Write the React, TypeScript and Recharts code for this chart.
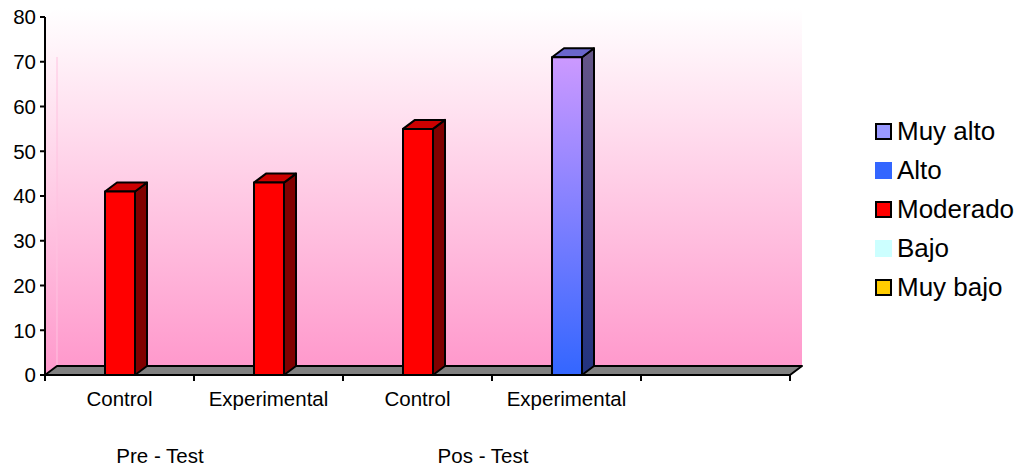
import { BarChart, Bar, XAxis, YAxis, Legend } from 'recharts'

const categories = ['Control', 'Experimental', 'Control', 'Experimental', '']
const muyBajo = [0, 0, 0, 0, 0]
const bajo = [0, 0, 0, 0, 0]
const moderado = [41, 43, 55, 0, 0]
const alto = [0, 0, 0, 0, 0]
const muyAlto = [0, 0, 0, 71, 0]
const yTicks = [0, 10, 20, 30, 40, 50, 60, 70, 80]
const groupLabels = ['Pre - Test', 'Pos - Test']
const seriesNames = ['Muy bajo', 'Bajo', 'Moderado', 'Alto', 'Muy alto']

const data = categories.map((name, i) => ({
  name,
  'Muy bajo': muyBajo[i],
  Bajo: bajo[i],
  Moderado: moderado[i],
  Alto: alto[i],
  'Muy alto': muyAlto[i],
}))

// chart geometry (front plane of the 3D box)
const W = 1022
const H = 468
const LEFT = 45
const RIGHT = 790
const TOP = 17
const BOTTOM = 375
const DX = 12
const DY = 9
const BAND = (RIGHT - LEFT) / categories.length
const FONT = '"Liberation Sans", Arial, sans-serif'

const looks: Record<string, { front: string; top: string; side: string; swatch: string; border: boolean }> = {
  'Muy bajo': { front: '#FFCC00', top: '#CCA300', side: '#806600', swatch: '#FFCC00', border: true },
  Bajo: { front: '#CCFFFF', top: '#A3CCCC', side: '#668080', swatch: '#CCFFFF', border: false },
  Moderado: { front: '#FF0000', top: '#CC0000', side: '#800000', swatch: '#FF0000', border: true },
  Alto: { front: '#3366FF', top: '#2952CC', side: '#1A3380', swatch: '#3366FF', border: false },
  'Muy alto': { front: 'url(#muyAltoFront)', top: '#6A66CC', side: 'url(#muyAltoSide)', swatch: '#9999FF', border: true },
}

const Bar3D = (props: any) => {
  const { x, y, width, height, look } = props
  if (!height || height <= 0) return <g />
  return (
    <g stroke="#000" strokeWidth={2} strokeLinejoin="round">
      <polygon
        points={`${x + width},${y} ${x + width + DX},${y - DY} ${x + width + DX},${y + height - DY} ${x + width},${y + height}`}
        fill={look.side}
      />
      <polygon
        points={`${x},${y} ${x + DX},${y - DY} ${x + width + DX},${y - DY} ${x + width},${y}`}
        fill={look.top}
      />
      <rect x={x} y={y} width={width} height={height} fill={look.front} />
    </g>
  )
}

const CategoryTick = (props: any) => {
  const { x, payload, index } = props
  const left = x - BAND / 2
  return (
    <g>
      <line x1={left} y1={BOTTOM} x2={left} y2={BOTTOM + 6} stroke="#000" strokeWidth={2} />
      {index === categories.length - 1 && (
        <line x1={left + BAND} y1={BOTTOM} x2={left + BAND} y2={BOTTOM + 6} stroke="#000" strokeWidth={2} />
      )}
      <text x={x} y={406} textAnchor="middle" fontSize={20.5} fontFamily={FONT} fill="#000">
        {payload.value}
      </text>
    </g>
  )
}

const LegendBox = () => (
  <div style={{ fontFamily: FONT, fontSize: 26, color: '#000' }}>
    {[...seriesNames].reverse().map(name => (
      <div key={name} style={{ display: 'flex', alignItems: 'center', height: 39 }}>
        <span
          style={{
            display: 'inline-block',
            width: 17,
            height: 17,
            boxSizing: 'border-box',
            background: looks[name].swatch,
            border: looks[name].border ? '2px solid #000' : 'none',
            marginRight: 5,
          }}
        />
        <span>{name}</span>
      </div>
    ))}
  </div>
)

export default function App() {
  return (
    <div style={{ position: 'absolute', left: 0, top: 0, width: W, height: H, background: '#fff' }}>
      <svg width={W} height={H} style={{ position: 'absolute', left: 0, top: 0 }}>
        <defs>
          <linearGradient id="wall" x1="0" y1="0" x2="0" y2="1">
            <stop offset="0%" stopColor="#FFFFFF" />
            <stop offset="100%" stopColor="#FF99CC" />
          </linearGradient>
          <linearGradient id="muyAltoFront" x1="0" y1="0" x2="0" y2="1">
            <stop offset="0%" stopColor="#CC99FF" />
            <stop offset="100%" stopColor="#3366FF" />
          </linearGradient>
          <linearGradient id="muyAltoSide" x1="0" y1="0" x2="0" y2="1">
            <stop offset="0%" stopColor="#665588" />
            <stop offset="100%" stopColor="#223380" />
          </linearGradient>
        </defs>
        {/* back wall and side wall */}
        <rect x={LEFT + DX} y={TOP - DY} width={RIGHT - LEFT} height={BOTTOM - TOP} fill="url(#wall)" />
        <polygon
          points={`${LEFT},${TOP} ${LEFT + DX},${TOP - DY} ${LEFT + DX},${BOTTOM - DY} ${LEFT},${BOTTOM}`}
          fill="url(#wall)"
        />
        <line x1={LEFT + DX} y1={TOP + 40} x2={LEFT + DX} y2={BOTTOM - DY} stroke="#FFC2E0" strokeWidth={1} />
        {/* floor */}
        <polygon
          points={`${LEFT},${BOTTOM} ${LEFT + DX},${BOTTOM - DY} ${RIGHT + DX},${BOTTOM - DY} ${RIGHT},${BOTTOM}`}
          fill="#808080"
          stroke="#000"
          strokeWidth={2}
          strokeLinejoin="round"
        />
        <text x={160} y={463} textAnchor="middle" fontSize={20.5} fontFamily={FONT} fill="#000">
          {groupLabels[0]}
        </text>
        <text x={483} y={463} textAnchor="middle" fontSize={20.5} fontFamily={FONT} fill="#000">
          {groupLabels[1]}
        </text>
      </svg>
      <div style={{ position: 'absolute', left: 0, top: 0 }}>
        <BarChart width={W} height={H} data={data} margin={{ top: TOP, right: W - RIGHT, bottom: H - BOTTOM - 30, left: 0 }}>
          <XAxis
            dataKey="name"
            height={30}
            axisLine={false}
            tickLine={false}
            interval={0}
            tick={<CategoryTick />}
          />
          <YAxis
            width={LEFT}
            domain={[0, 80]}
            ticks={yTicks}
            interval={0}
            axisLine={{ stroke: '#000', strokeWidth: 2 }}
            tickLine={{ stroke: '#000', strokeWidth: 2 }}
            tickSize={5}
            tickMargin={4}
            tick={{ fill: '#000', fontSize: 20.5, fontFamily: FONT }}
          />
          <Legend
            layout="vertical"
            align="center"
            verticalAlign="middle"
            wrapperStyle={{ left: 875, top: 112, width: 150 }}
            content={() => <LegendBox />}
          />
          {seriesNames.map(name => (
            <Bar
              key={name}
              dataKey={name}
              stackId="a"
              barSize={30}
              isAnimationActive={false}
              shape={(p: any) => <Bar3D {...p} look={looks[name]} />}
            />
          ))}
        </BarChart>
      </div>
    </div>
  )
}
